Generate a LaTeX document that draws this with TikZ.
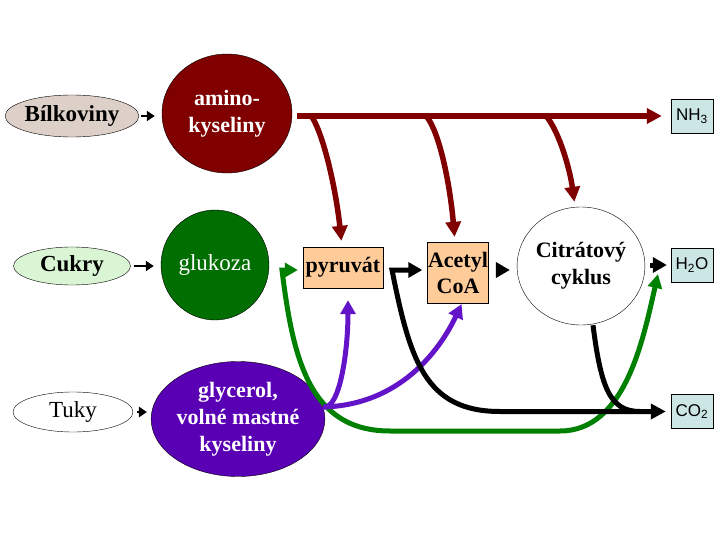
\documentclass[tikz,border=0pt]{standalone}
\usepackage{fontspec}
\setmainfont{Liberation Serif}
\setsansfont{Liberation Sans}
\usetikzlibrary{arrows.meta,shapes.geometric}
\definecolor{aminored}{RGB}{128,0,0}
\definecolor{sugargreen}{RGB}{0,110,0}
\definecolor{arrowgreen}{RGB}{0,128,0}
\definecolor{fatpurple}{RGB}{90,0,180}
\definecolor{arrowpurple}{RGB}{100,20,200}
\definecolor{proteinfill}{RGB}{221,208,200}
\definecolor{sugarfill}{RGB}{218,245,212}
\definecolor{interfill}{RGB}{255,204,153}
\definecolor{prodfill}{RGB}{204,230,230}

\begin{document}
\begin{tikzpicture}[
  x=1pt, y=-1pt,
  food/.style={ellipse, draw, thin, inner sep=0pt, minimum width=117pt,
               minimum height=42pt, font=\fontsize{23}{26}\selectfont},
  blob/.style={ellipse, draw, thin, inner sep=0pt, align=center, text=white,
               font=\bfseries\fontsize{22}{27}\selectfont},
  inter/.style={draw, thin, fill=interfill, inner sep=0pt, align=center,
                font=\bfseries\fontsize{22}{26}\selectfont},
  prod/.style={draw, thin, fill=prodfill, inner sep=0pt, minimum width=42pt,
               minimum height=34pt, font=\sffamily\fontsize{17}{19}\selectfont},
  feed/.style={-{Triangle[length=8pt,width=10pt]}, line width=2.5pt},
  hop/.style={-{Triangle[length=14pt,width=15pt]}, line width=5pt},
  ar/.style={-{Triangle[length=15pt,width=15pt]}, line width=5.5pt}
]
  \useasboundingbox (0,0) rectangle (720,540);

  % sources
  \node[food, fill=proteinfill] (bilk) at (72,116) {\bfseries Bílkoviny};
  \node[food, fill=sugarfill, minimum height=38pt] (cukry) at (72,266) {\bfseries Cukry};
  \node[food, fill=white, minimum width=120pt, minimum height=40pt] (tuky) at (73,412) {Tuky};

  \node[blob, fill=aminored, minimum width=130pt, minimum height=119pt] (amino) at (227,113.5) {amino-\\kyseliny};
  \node[blob, fill=sugargreen, minimum width=108pt, minimum height=110pt,
        font=\fontsize{23}{27}\selectfont] (gluk) at (215,265) {glukoza};
  \node[blob, fill=fatpurple, minimum width=142pt, minimum height=115pt] (gly) at (238,419) {glycerol,\\volné mastné\\kyseliny};

  % intermediates
  \node[inter, minimum width=80pt, minimum height=41pt] (pyr) at (343,267.5) {pyruvát};
  \node[inter, minimum width=61pt, minimum height=61pt] (acetyl) at (458,272.5) {Acetyl\\CoA};
  \node[blob, fill=white, text=black, minimum width=113pt, minimum height=118pt] (citr) at (581,266) {Citrátový\\cyklus};

  % products
  \node[prod] (nh3) at (692,116) {NH\textsubscript{3}};
  \node[prod] (h2o) at (692,265) {H\textsubscript{2}O};
  \node[prod] (co2) at (692,411.5) {CO\textsubscript{2}};

  \coordinate (r1) at (312,117);
  \coordinate (r2) at (427,117);
  \coordinate (r3) at (547,117);
  \coordinate (kink) at (392,270);
  \coordinate (merge) at (640,411.5);
  \coordinate (gkink) at (282,270);
  \coordinate (gend) at (658,274);

  \draw[feed, shorten <=2pt, shorten >=7pt] (bilk.east) -- (bilk.east -| amino.west);
  \draw[feed, shorten <=3pt, shorten >=7pt] (cukry.east) -- (cukry.east -| gluk.west);
  \draw[feed, shorten <=4pt, shorten >=4pt] (tuky.east) -- (tuky.east -| gly.west);

  % amino acids
  \draw[ar, aminored, shorten <=5pt, shorten >=9pt] (amino.east |- nh3.west) -- (nh3.west);
  \draw[ar, aminored, shorten >=6pt] (r1) .. controls (324,136) and (336,190) .. ([xshift=-1pt]pyr.north);
  \draw[ar, aminored, shorten >=5pt] (r2) .. controls (440,134) and (450,185) .. ([xshift=-3pt]acetyl.north);
  \draw[ar, aminored, shorten >=5pt] (r3) .. controls (560,134) and (570,170) .. ([xshift=-6pt]citr.north);

  % sugars
  \draw[hop, arrowgreen, {Triangle[length=13pt,width=14pt]}-{Triangle[length=14pt,width=14pt]}, shorten <=5pt]
    (pyr.west |- gkink) -- (gkink) .. controls (293,360) and (310,431) .. (390,431)
    -- (560,431) .. controls (625,431) and (643,340) .. (gend);

  % fats
  \draw[hop, arrowpurple, shorten >=12pt] (gly.8) .. controls (340,410) and (348,350) .. ([xshift=5pt]pyr.south);
  \draw[hop, arrowpurple, shorten >=1pt] (gly.8) .. controls (400,405) and (440,350) .. ([xshift=4pt]acetyl.south);

  % cycle
  \draw[hop, {Triangle[length=14pt,width=15pt]}-{Triangle[length=15pt,width=15pt]}, shorten <=5pt, shorten >=5pt]
    (acetyl.west |- kink) -- (kink) .. controls (410,360) and (425,411.5) .. (500,411.5) -- (co2.west);
  \draw[line width=5pt] ([xshift=12pt]citr.south) .. controls (601,388) and (610,411.5) .. (merge);
  \draw[hop, shorten <=8pt, shorten >=7pt] (acetyl.east |- kink) -- (kink -| citr.west);
  \draw[hop, shorten <=5pt, shorten >=4pt] (citr.east |- h2o.west) -- (h2o.west);
\end{tikzpicture}
\end{document}
